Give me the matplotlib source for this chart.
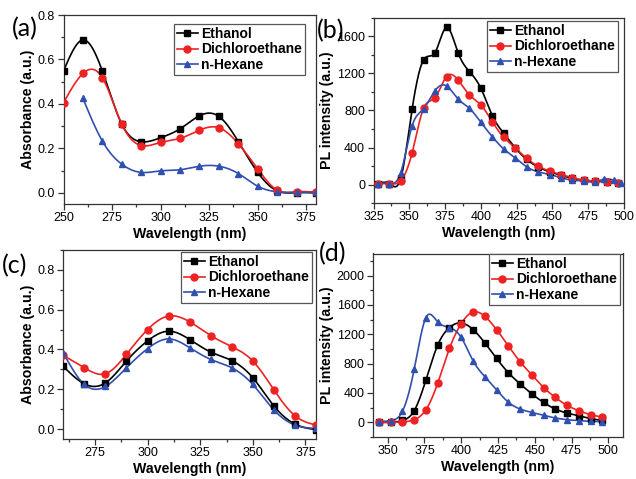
import numpy as np
import matplotlib
matplotlib.use("Agg")
import matplotlib.pyplot as plt
from matplotlib.lines import Line2D
from matplotlib.ticker import MultipleLocator

plt.rcParams['font.family'] = ['Liberation Sans', 'DejaVu Sans']

# ---------------- data ----------------
labels = ["Ethanol", "Dichloroethane", "n-Hexane"]

# (a) absorbance
a_x = [250, 260, 270, 280, 290, 300, 310, 320, 330, 340, 350, 360, 370, 380]
a_eth = [0.548, 0.688, 0.548, 0.309, 0.230, 0.248, 0.288, 0.347, 0.344, 0.231, 0.092, 0.009, 0.001, 0.000]
a_dce = [0.405, 0.537, 0.518, 0.309, 0.213, 0.227, 0.245, 0.282, 0.293, 0.221, 0.108, 0.012, 0.005, 0.003]
a_hex_x = [260, 270, 280, 290, 300, 310, 320, 330, 340, 350, 360, 370, 380]
a_hex = [0.425, 0.233, 0.129, 0.092, 0.099, 0.104, 0.120, 0.120, 0.087, 0.030, 0.005, 0.002, 0.002]

# (b) PL
b_x = [328, 336, 344, 352, 360, 368, 376, 384, 392, 400, 408, 416, 424, 432,
       440, 448, 456, 464, 472, 480, 488, 496]
b_eth = [10, 10, 65, 817, 1348, 1427, 1698, 1427, 1221, 1041, 744, 553, 397, 271,
         190, 137, 100, 65, 47, 36, 29, 18]
b_dce = [10, 10, 40, 343, 824, 939, 1167, 1131, 968, 860, 679, 509, 397, 282,
         199, 145, 108, 72, 47, 36, 29, 18]
b_hex_x = [328, 336, 344, 352, 360, 368, 376, 384, 392, 400, 408, 416, 424, 432,
           440, 448, 456, 464, 472, 480, 486, 493, 498]
b_hex = [10, 10, 126, 636, 817, 1015, 1066, 925, 824, 672, 517, 383, 289, 191,
         137, 108, 72, 47, 36, 29, 58, 45, 20]

# (c) absorbance
c_x = [260, 270, 280, 290, 300, 310, 320, 330, 340, 350, 360, 370, 380]
c_eth = [0.315, 0.227, 0.232, 0.342, 0.443, 0.492, 0.450, 0.387, 0.344, 0.258, 0.116, 0.025, -0.003]
c_dce = [0.370, 0.308, 0.278, 0.376, 0.500, 0.568, 0.539, 0.470, 0.414, 0.342, 0.197, 0.067, 0.020]
c_hex = [0.382, 0.224, 0.214, 0.308, 0.404, 0.453, 0.409, 0.350, 0.308, 0.224, 0.096, 0.020, 0.003]

# (d) PL
d_x = [344, 352, 360, 368, 376, 384, 392, 400, 408, 416, 424, 432, 440, 448,
       456, 464, 472, 480, 488, 496]
d_eth = [0, 0, 25, 158, 578, 1052, 1291, 1354, 1264, 1084, 871, 677, 524, 388,
         271, 181, 126, 90, 50, 27]
d_dce = [0, 0, 5, 36, 172, 533, 1007, 1345, 1503, 1445, 1264, 1043, 826, 646,
         474, 339, 230, 158, 104, 72]
d_hex = [9, 23, 149, 722, 1427, 1368, 1291, 1156, 840, 623, 442, 275, 181, 135,
         95, 59, 36, 23, 14, 9]

colors = ["#000000", "#ee2222", "#3050b0"]
markers = ["s", "o", "^"]


def spline(x, y, n=400):
    x = np.asarray(x, float)
    y = np.asarray(y, float)
    m = len(x)
    h = np.diff(x)
    A = np.zeros((m, m))
    r = np.zeros(m)
    A[0, 0] = 1
    A[-1, -1] = 1
    for i in range(1, m - 1):
        A[i, i - 1] = h[i - 1]
        A[i, i] = 2 * (h[i - 1] + h[i])
        A[i, i + 1] = h[i]
        r[i] = 3 * ((y[i + 1] - y[i]) / h[i] - (y[i] - y[i - 1]) / h[i - 1])
    c = np.linalg.solve(A, r)
    b = (y[1:] - y[:-1]) / h - h * (2 * c[:-1] + c[1:]) / 3
    d = (c[1:] - c[:-1]) / (3 * h)
    xs = np.linspace(x[0], x[-1], n)
    idx = np.clip(np.searchsorted(x, xs) - 1, 0, m - 2)
    dx = xs - x[idx]
    ys = y[idx] + b[idx] * dx + c[idx] * dx ** 2 + d[idx] * dx ** 3
    return xs, ys


W, H = 636, 479
fig = plt.figure(figsize=(W / 100, H / 100), dpi=100)


def make_ax(l, t, r, b):
    return fig.add_axes([l / W, 1 - b / H, (r - l) / W, (b - t) / H])


def style(ax, xlim, ylim, xmaj, ymaj, ylabel, leg_rt):
    ax.set_xlim(*xlim)
    ax.set_ylim(*ylim)
    ax.xaxis.set_major_locator(MultipleLocator(xmaj))
    ax.xaxis.set_minor_locator(MultipleLocator(xmaj / 2))
    ax.yaxis.set_major_locator(MultipleLocator(ymaj))
    ax.yaxis.set_minor_locator(MultipleLocator(ymaj / 2))
    ax.tick_params(which='both', direction='out', top=False, right=False,
                   labelsize=9, color='#333333', width=0.9, pad=2)
    ax.tick_params(which='major', length=4)
    ax.tick_params(which='minor', length=2.5)
    for s in ax.spines.values():
        s.set_color('#333333')
        s.set_linewidth(0.9)
    ax.set_xlabel("Wavelength (nm)", fontsize=10.2, fontweight='bold', labelpad=2)
    ax.set_ylabel(ylabel, fontsize=10.2, fontweight='bold', labelpad=2)
    handles = [Line2D([], [], color=c, marker=m, markersize=5, lw=1.2)
               for c, m in zip(colors, markers)]
    leg = ax.legend(handles, labels, loc='upper right',
                    bbox_to_anchor=(leg_rt[0] / W, 1 - leg_rt[1] / H),
                    bbox_transform=fig.transFigure, borderaxespad=0,
                    fancybox=False, framealpha=1, edgecolor='#555555',
                    prop={'weight': 'bold', 'size': 10},
                    handlelength=1.5, handletextpad=0.25, labelspacing=0.12,
                    borderpad=0.2)
    leg.get_frame().set_linewidth(0.9)


def draw(ax, xs_list, ys_list):
    for xs, ys, c, m in zip(xs_list, ys_list, colors, markers):
        sx, sy = spline(xs, ys)
        ax.plot(sx, sy, color=c, lw=1.2, zorder=2)
        ax.plot(xs, ys, ls='none', marker=m, color=c, markersize=5, zorder=3)


axa = make_ax(63.5, 15, 316, 204)
draw(axa, [a_x, a_x, a_hex_x], [a_eth, a_dce, a_hex])
style(axa, (250, 380), (-0.05, 0.8), 25, 0.2, "Absorbance (a.u.)", (305, 24))

axb = make_ax(373.5, 18, 624, 203)
draw(axb, [b_x, b_x, b_hex_x], [b_eth, b_dce, b_hex])
style(axb, (325, 500), (-200, 1800), 25, 400, "PL intensity (a.u.)", (618, 21))

axc = make_ax(63.3, 250, 316, 439)
draw(axc, [c_x, c_x, c_x], [c_eth, c_dce, c_hex])
style(axc, (260, 380), (-0.05, 0.9), 25, 0.2, "Absorbance (a.u.)", (312, 252))

axd = make_ax(373, 253.5, 623, 437)
draw(axd, [d_x, d_x, d_x], [d_eth, d_dce, d_hex])
style(axd, (340, 510), (-200, 2300), 25, 400, "PL intensity (a.u.)", (620, 254))

pl_font = dict(fontsize=18, family=['Lato', 'DejaVu Sans'], va='center', ha='left')
fig.text(12 / W, 1 - 29 / H, "(a)", **pl_font)
fig.text(317 / W, 1 - 31 / H, "(b)", **pl_font)
fig.text(2 / W, 1 - 266 / H, "(c)", **pl_font)
fig.text(319 / W, 1 - 254 / H, "(d)", **pl_font)

fig.savefig("out.png", dpi=100)
